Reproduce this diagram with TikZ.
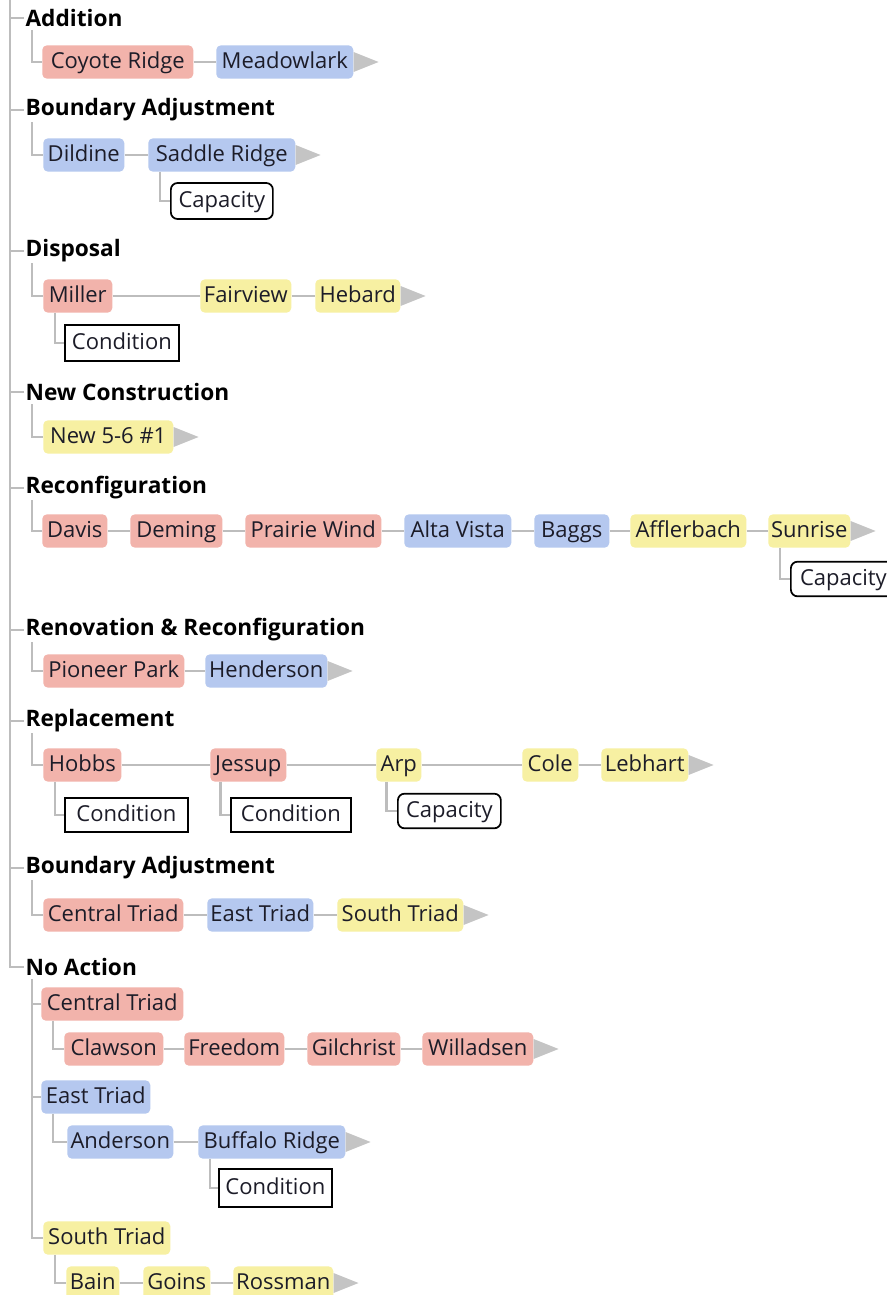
\documentclass[tikz,border=0pt]{standalone}
\usepackage{fontspec}
\setmainfont{Open Sans}
\definecolor{rd}{HTML}{F2B3AB}
\definecolor{bl}{HTML}{B5C8EF}
\definecolor{yl}{HTML}{F7F0A2}
\definecolor{linkgray}{HTML}{BDBDBD}
\definecolor{tipgray}{HTML}{C4C4C4}
\definecolor{txt}{HTML}{1C1C28}
\tikzset{
  item/.style={rounded corners=3.5pt, anchor=west, minimum height=25pt,
    text height=12.5pt, text depth=2.5pt, inner xsep=2pt, inner ysep=0pt,
    text=txt, font=\fontsize{16.5}{19}\selectfont},
  capbox/.style={item, draw=black, line width=1.3pt, fill=white, rounded corners=5pt},
  condbox/.style={item, draw=black, line width=1.3pt, fill=white, sharp corners},
  cat/.style={anchor=west, inner sep=1pt, text=black, font=\fontsize{17}{20}\selectfont\bfseries},
  link/.style={draw=linkgray, line width=2.2pt},
}
\begin{document}
\begin{tikzpicture}[x=0.75pt, y=-0.75pt]
\fill[white] (0,0) rectangle (887,1295);
\useasboundingbox (0,0) rectangle (887,1295);
\coordinate (top) at (10,0);
% categories
\node[cat] (addition) at (24,18) {Addition};
\node[cat] (boundary) at (24,110) {Boundary Adjustment};
\node[cat] (disposal) at (24,251) {Disposal};
\node[cat] (newcons) at (24,392) {New Construction};
\node[cat] (reconf) at (24,488) {Reconfiguration};
\node[cat] (renov) at (24,630) {Renovation \& Reconfiguration};
\node[cat] (replace) at (24,721) {Replacement};
\node[cat] (boundtwo) at (24,868) {Boundary Adjustment};
\node[cat] (noaction) at (24,967) {No Action};
\foreach \c in {addition,boundary,disposal,newcons,reconf,renov,replace,boundtwo,noaction}
  \draw[link] (top) |- (\c.west);
% schools, row by row
\foreach \nm/\xa/\xb/\tx/\cl in {coyote/42/193/Coyote Ridge/rd, meadow/216/353/Meadowlark/bl}
  \node[item, fill=\cl, minimum width={(\xb-\xa)*0.75pt}] (\nm) at (\xa,62) {\tx};
\foreach \nm/\xa/\xb/\tx/\cl in {dildine/43/124/Dildine/bl, saddle/148/295/Saddle Ridge/bl}
  \node[item, fill=\cl, minimum width={(\xb-\xa)*0.75pt}] (\nm) at (\xa,155) {\tx};
\foreach \nm/\xa/\xb/\tx/\cl in {miller/43/112/Miller/rd, fairview/200/291/Fairview/yl,
  hebard/315/400/Hebard/yl}
  \node[item, fill=\cl, minimum width={(\xb-\xa)*0.75pt}] (\nm) at (\xa,296) {\tx};
\node[item, fill=yl, minimum width={130*0.75pt}] (newsix) at (43,437) {New 5-6 \#1};
\foreach \nm/\xa/\xb/\tx/\cl in {davis/42/107/Davis/rd, deming/130/222/Deming/rd,
  prairie/245/381/Prairie Wind/rd, alta/404/511/Alta Vista/bl, baggs/534/609/Baggs/bl,
  affler/630/746/Afflerbach/yl, sunrise/768/850/Sunrise/yl}
  \node[item, fill=\cl, minimum width={(\xb-\xa)*0.75pt}] (\nm) at (\xa,531) {\tx};
\foreach \nm/\xa/\xb/\tx/\cl in {pioneer/43/184/Pioneer Park/rd, henderson/205/327/Henderson/bl}
  \node[item, fill=\cl, minimum width={(\xb-\xa)*0.75pt}] (\nm) at (\xa,671) {\tx};
\foreach \nm/\xa/\xb/\tx/\cl in {hobbs/43/121/Hobbs/rd, jessup/210/286/Jessup/rd,
  arp/376/421/Arp/yl, cole/522/578/Cole/yl, lebhart/601/688/Lebhart/yl}
  \node[item, fill=\cl, minimum width={(\xb-\xa)*0.75pt}] (\nm) at (\xa,765) {\tx};
\foreach \nm/\xa/\xb/\tx/\cl in {centralb/43/183/Central Triad/rd, eastb/207/313/East Triad/bl,
  southb/337/463/South Triad/yl}
  \node[item, fill=\cl, minimum width={(\xb-\xa)*0.75pt}] (\nm) at (\xa,915) {\tx};
% no action groups
\node[item, fill=rd, minimum width={142*0.75pt}] (nacentral) at (41,1004) {Central Triad};
\node[item, fill=bl, minimum width={109*0.75pt}] (naeast) at (41,1097) {East Triad};
\node[item, fill=yl, minimum width={127*0.75pt}] (nasouth) at (43,1238) {South Triad};
\foreach \nm/\xa/\xb/\tx/\cl in {clawson/64/163/Clawson/rd, freedom/184/284/Freedom/rd,
  gilchrist/307/400/Gilchrist/rd, willadsen/422/533/Willadsen/rd}
  \node[item, fill=\cl, minimum width={(\xb-\xa)*0.75pt}] (\nm) at (\xa,1049) {\tx};
\foreach \nm/\xa/\xb/\tx/\cl in {anderson/67/173/Anderson/bl, buffalo/198/345/Buffalo Ridge/bl}
  \node[item, fill=\cl, minimum width={(\xb-\xa)*0.75pt}] (\nm) at (\xa,1142) {\tx};
\foreach \nm/\xa/\xb/\tx/\cl in {bain/66/119/Bain/yl, goins/143/210/Goins/yl,
  rossman/233/333/Rossman/yl}
  \node[item, fill=\cl, minimum width={(\xb-\xa)*0.75pt}] (\nm) at (\xa,1283) {\tx};
% reasons
\node[capbox, minimum width={102*0.75pt}, minimum height=27pt] (capsaddle) at (170,201) {Capacity};
\node[condbox, minimum width={114*0.75pt}, minimum height=27pt] (condmiller) at (64,343) {Condition};
\node[capbox, minimum width={105*0.75pt}, minimum height=26pt] (capsunrise) at (790,579) {Capacity};
\node[condbox, minimum width={123*0.75pt}, minimum height=26pt] (condhobbs) at (64,815) {Condition};
\node[condbox, minimum width={120*0.75pt}, minimum height=26pt] (condjessup) at (230,815) {Condition};
\node[capbox, minimum width={103*0.75pt}, minimum height=26pt] (caparp) at (397,811) {Capacity};
\node[condbox, minimum width={113*0.75pt}, minimum height=28pt] (condbuffalo) at (218,1188) {Condition};
% chains
\draw[link] (coyote) -- (meadow);
\draw[link] (dildine) -- (saddle);
\draw[link] (miller) -- (fairview) (fairview) -- (hebard);
\draw[link] (davis) -- (deming) (deming) -- (prairie) (prairie) -- (alta)
  (alta) -- (baggs) (baggs) -- (affler) (affler) -- (sunrise);
\draw[link] (pioneer) -- (henderson);
\draw[link] (hobbs) -- (jessup) (jessup) -- (arp) (arp) -- (cole) (cole) -- (lebhart);
\draw[link] (centralb) -- (eastb) (eastb) -- (southb);
\draw[link] (clawson) -- (freedom) (freedom) -- (gilchrist) (gilchrist) -- (willadsen);
\draw[link] (anderson) -- (buffalo);
\draw[link] (bain) -- (goins) (goins) -- (rossman);
% elbows
\draw[link] ([xshift=6pt,yshift=-9pt]addition.west) |- (coyote.west);
\draw[link] ([xshift=6pt,yshift=-9pt]boundary.west) |- (dildine.west);
\draw[link] ([xshift=6pt,yshift=-9pt]disposal.west) |- (miller.west);
\draw[link] ([xshift=6pt,yshift=-9pt]newcons.west) |- (newsix.west);
\draw[link] ([xshift=6pt,yshift=-9pt]reconf.west) |- (davis.west);
\draw[link] ([xshift=6pt,yshift=-9pt]renov.west) |- (pioneer.west);
\draw[link] ([xshift=6pt,yshift=-9pt]replace.west) |- (hobbs.west);
\draw[link] ([xshift=6pt,yshift=-9pt]boundtwo.west) |- (centralb.west);
\foreach \g in {nacentral,naeast,nasouth}
  \draw[link] ([xshift=6pt,yshift=-9pt]noaction.west) |- (\g.west);
\draw[link] ([xshift=9pt]nacentral.south west) |- (clawson.west);
\draw[link] ([xshift=9pt]naeast.south west) |- (anderson.west);
\draw[link] ([xshift=9pt]nasouth.south west) |- (bain.west);
\draw[link] ([xshift=9pt]saddle.south west) |- (capsaddle.west);
\draw[link] ([xshift=9pt]miller.south west) |- (condmiller.west);
\draw[link] ([xshift=9pt]sunrise.south west) |- (capsunrise.west);
\draw[link] ([xshift=9pt]hobbs.south west) |- (condhobbs.west);
\draw[link] ([xshift=8pt]jessup.south west) |- (condjessup.west);
\draw[link] ([xshift=8pt]arp.south west) |- (caparp.west);
\draw[link] ([xshift=9pt]buffalo.south west) |- (condbuffalo.west);
% end tips
\foreach \nm in {meadow,saddle,hebard,newsix,sunrise,henderson,lebhart,southb,willadsen,buffalo,rossman}
  \fill[tipgray] (\nm.east) ++(0,-10) -- ++(25,10) -- ++(-25,10) -- cycle;
\end{tikzpicture}
\end{document}
